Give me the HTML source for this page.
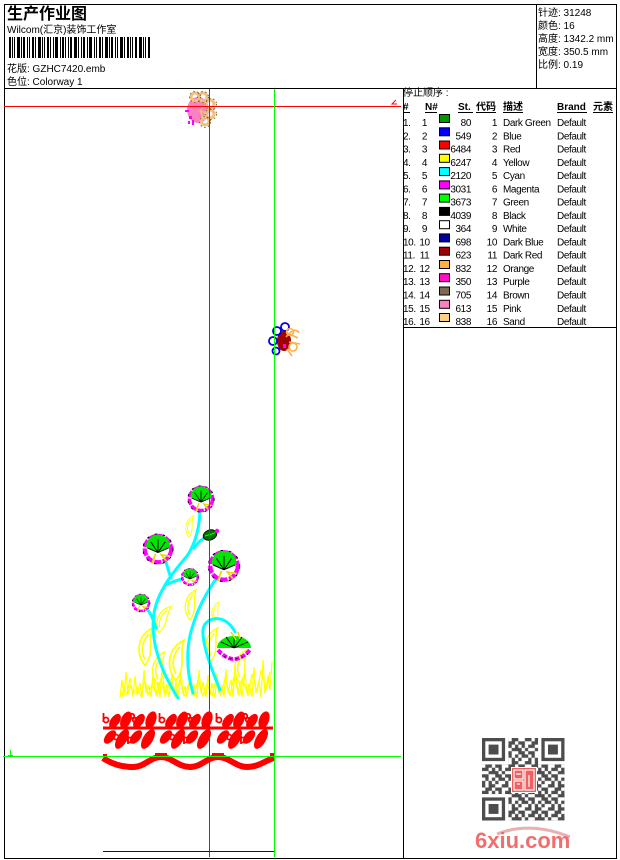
<!DOCTYPE html>
<html><head><meta charset="utf-8"><style>
html,body{margin:0;padding:0;background:#fff;}
svg{display:block;}
text{font-family:"Liberation Sans","Noto Sans CJK SC",sans-serif;font-size:10px;fill:#000;}
.b{font-weight:bold;}
.t{letter-spacing:-0.4px;}
</style></head><body>
<svg width="620" height="860" viewBox="0 0 620 860" xmlns="http://www.w3.org/2000/svg">
<defs>
<pattern id="qrp" width="23.1" height="23.1" patternUnits="userSpaceOnUse" x="482" y="738">
<path transform="scale(3.3)" fill="#4d4d4d" d="M0 0h1v1h-1z M2 0h2v1h-2z M6 0h1v1h-1z M1 1h2v1h-2z M4 1h2v1h-2z M0 2h2v1h-2z M3 2h1v1h-1z M5 2h1v1h-1z M2 3h3v1h-3z M6 3h1v1h-1z M0 4h2v1h-2z M4 4h2v1h-2z M1 5h1v1h-1z M3 5h1v1h-1z M5 5h2v1h-2z M0 6h1v1h-1z M2 6h1v1h-1z M4 6h1v1h-1z"/>
</pattern>
<g id="sp" fill="#ff0000">
<rect x="0" y="-1.5" width="57" height="3"/>
<ellipse cx="12" cy="-7" rx="4.5" ry="8" transform="rotate(35 12 -7)"/>
<ellipse cx="23" cy="-8" rx="5" ry="9" transform="rotate(25 23 -8)"/>
<ellipse cx="36" cy="-7" rx="4.5" ry="8" transform="rotate(35 36 -7)"/>
<ellipse cx="48" cy="-8" rx="5" ry="9" transform="rotate(20 48 -8)"/>
<ellipse cx="7" cy="9" rx="4.5" ry="8" transform="rotate(40 7 9)"/>
<ellipse cx="19" cy="11" rx="5" ry="11" transform="rotate(30 19 11)"/>
<ellipse cx="33" cy="9" rx="4.5" ry="8" transform="rotate(40 33 9)"/>
<ellipse cx="45" cy="11" rx="5" ry="11" transform="rotate(30 45 11)"/>
<g fill="none" stroke="#ff0000" stroke-width="1.8">
<circle cx="3" cy="-8" r="2.5"/><path d="M0.5,-15 v9"/>
<circle cx="29" cy="-12" r="2.2"/><circle cx="32" cy="-8" r="2.2"/>
<circle cx="13" cy="9" r="2.5"/><circle cx="27" cy="12" r="2.5"/><path d="M25,8 v8"/>
</g>
</g>
<g id="fl">
<circle r="11" fill="#fff" stroke="#ff00ff" stroke-width="3.4" stroke-dasharray="6 1.2"/>
<circle r="12.5" fill="none" stroke="#000" stroke-width="0.9" stroke-dasharray="2 5"/>
<path d="M0,3 L-10,-2 A10,10 0 0 1 10,-2 Z" fill="#00e600"/>
<path d="M0,3 L-6,-6 M0,3 L0,-8 M0,3 L6,-6 M0,3 L-9,-1 M0,3 L9,-1" stroke="#000" stroke-width="0.8"/>
<path d="M-2,4 L-5,12 M2,4 L7,10 M3,5 L10,6" stroke="#e8d800" stroke-width="1.4" fill="none"/>
</g>
<g id="fm" fill="none" stroke="#ffff00" stroke-width="1.3">
<path d="M0,30 C-8,20 -6,6 6,0 C2,10 8,20 0,30 Z"/>
<path d="M0,25 C-4,18 -2,10 3,5"/>
</g>
</defs>

<rect width="620" height="860" fill="#fff"/>

<!-- frame -->
<g stroke="#000" stroke-width="1" fill="none">
<rect x="4.5" y="4.5" width="612" height="854"/>
<line x1="4.5" y1="88.5" x2="616.5" y2="88.5"/>
<line x1="536.5" y1="4.5" x2="536.5" y2="88.5"/>
<line x1="403.5" y1="88.5" x2="403.5" y2="858.5"/>
<line x1="403.5" y1="327.5" x2="616.5" y2="327.5"/>
</g>

<!-- header left -->
<text x="7" y="19" class="b" style="font-size:16px;font-family:'Noto Sans CJK SC',sans-serif;font-weight:bold">生产作业图</text>
<text x="7" y="33">Wilcom(汇京)装饰工作室</text>
<g fill="#000">
<rect x="9" y="37" width="2" height="21"/><rect x="12" y="37" width="1" height="21"/><rect x="14" y="37" width="1" height="21"/><rect x="17" y="37" width="3" height="21"/><rect x="21" y="37" width="1" height="21"/><rect x="23" y="37" width="2" height="21"/><rect x="27" y="37" width="1" height="21"/><rect x="29" y="37" width="1" height="21"/><rect x="32" y="37" width="2" height="21"/><rect x="35" y="37" width="1" height="21"/><rect x="38" y="37" width="3" height="21"/><rect x="42" y="37" width="1" height="21"/><rect x="44" y="37" width="1" height="21"/><rect x="47" y="37" width="2" height="21"/><rect x="50" y="37" width="1" height="21"/><rect x="53" y="37" width="1" height="21"/><rect x="55" y="37" width="3" height="21"/><rect x="60" y="37" width="1" height="21"/><rect x="62" y="37" width="2" height="21"/><rect x="65" y="37" width="1" height="21"/><rect x="68" y="37" width="1" height="21"/><rect x="70" y="37" width="2" height="21"/><rect x="74" y="37" width="3" height="21"/><rect x="78" y="37" width="1" height="21"/><rect x="81" y="37" width="1" height="21"/><rect x="83" y="37" width="2" height="21"/><rect x="87" y="37" width="1" height="21"/><rect x="89" y="37" width="3" height="21"/><rect x="94" y="37" width="1" height="21"/><rect x="96" y="37" width="1" height="21"/><rect x="99" y="37" width="2" height="21"/><rect x="102" y="37" width="1" height="21"/><rect x="105" y="37" width="3" height="21"/><rect x="109" y="37" width="1" height="21"/><rect x="111" y="37" width="2" height="21"/><rect x="115" y="37" width="1" height="21"/><rect x="117" y="37" width="1" height="21"/><rect x="120" y="37" width="3" height="21"/><rect x="124" y="37" width="1" height="21"/><rect x="127" y="37" width="2" height="21"/><rect x="130" y="37" width="1" height="21"/><rect x="132" y="37" width="1" height="21"/><rect x="135" y="37" width="2" height="21"/><rect x="139" y="37" width="3" height="21"/><rect x="143" y="37" width="1" height="21"/><rect x="145" y="37" width="1" height="21"/><rect x="148" y="37" width="2" height="21"/>
</g>
<text x="7" y="72">花版: GZHC7420.emb</text>
<text x="7" y="85">色位: Colorway 1</text>

<!-- header right -->
<text x="538" y="16">针迹: 31248</text>
<text x="538" y="29">颜色: 16</text>
<text x="538" y="42">高度: 1342.2 mm</text>
<text x="538" y="55">宽度: 350.5 mm</text>
<text x="538" y="68">比例: 0.19</text>

<!-- table -->
<text x="403" y="96">停止顺序 :</text>
<text x="403" y="110" class="b">#</text>
<text x="425" y="110" class="b">N#</text>
<text x="458" y="110" class="b">St.</text>
<text x="476" y="110" class="b">代码</text>
<text x="503" y="110" class="b">描述</text>
<text x="557" y="110" class="b">Brand</text>
<text x="593" y="110" class="b">元素</text>
<g stroke="#000" stroke-width="1">
<line x1="403" y1="112.5" x2="410" y2="112.5"/>
<line x1="425" y1="112.5" x2="437" y2="112.5"/>
<line x1="458" y1="112.5" x2="473" y2="112.5"/>
<line x1="476" y1="112.5" x2="496" y2="112.5"/>
<line x1="503" y1="112.5" x2="523" y2="112.5"/>
<line x1="557" y1="112.5" x2="587" y2="112.5"/>
<line x1="593" y1="112.5" x2="613" y2="112.5"/>
</g>

<g class="t">
<text x="403" y="126">1.</text><text x="424.5" y="126" text-anchor="middle">1</text><rect x="439.5" y="114.5" width="10" height="8" fill="#009600" stroke="#000"/><text x="471" y="126" text-anchor="end">80</text><text x="497" y="126" text-anchor="end">1</text><text x="503" y="126">Dark Green</text><text x="557" y="126">Default</text>
<text x="403" y="139.3">2.</text><text x="424.5" y="139.3" text-anchor="middle">2</text><rect x="439.5" y="127.8" width="10" height="8" fill="#0000ff" stroke="#000"/><text x="471" y="139.3" text-anchor="end">549</text><text x="497" y="139.3" text-anchor="end">2</text><text x="503" y="139.3">Blue</text><text x="557" y="139.3">Default</text>
<text x="403" y="152.5">3.</text><text x="424.5" y="152.5" text-anchor="middle">3</text><rect x="439.5" y="141" width="10" height="8" fill="#ff0000" stroke="#000"/><text x="471" y="152.5" text-anchor="end">6484</text><text x="497" y="152.5" text-anchor="end">3</text><text x="503" y="152.5">Red</text><text x="557" y="152.5">Default</text>
<text x="403" y="165.8">4.</text><text x="424.5" y="165.8" text-anchor="middle">4</text><rect x="439.5" y="154.3" width="10" height="8" fill="#ffff00" stroke="#000"/><text x="471" y="165.8" text-anchor="end">6247</text><text x="497" y="165.8" text-anchor="end">4</text><text x="503" y="165.8">Yellow</text><text x="557" y="165.8">Default</text>
<text x="403" y="179.1">5.</text><text x="424.5" y="179.1" text-anchor="middle">5</text><rect x="439.5" y="167.6" width="10" height="8" fill="#00ffff" stroke="#000"/><text x="471" y="179.1" text-anchor="end">2120</text><text x="497" y="179.1" text-anchor="end">5</text><text x="503" y="179.1">Cyan</text><text x="557" y="179.1">Default</text>
<text x="403" y="192.4">6.</text><text x="424.5" y="192.4" text-anchor="middle">6</text><rect x="439.5" y="180.9" width="10" height="8" fill="#ff00ff" stroke="#000"/><text x="471" y="192.4" text-anchor="end">3031</text><text x="497" y="192.4" text-anchor="end">6</text><text x="503" y="192.4">Magenta</text><text x="557" y="192.4">Default</text>
<text x="403" y="205.6">7.</text><text x="424.5" y="205.6" text-anchor="middle">7</text><rect x="439.5" y="194.1" width="10" height="8" fill="#00ff00" stroke="#000"/><text x="471" y="205.6" text-anchor="end">3673</text><text x="497" y="205.6" text-anchor="end">7</text><text x="503" y="205.6">Green</text><text x="557" y="205.6">Default</text>
<text x="403" y="218.9">8.</text><text x="424.5" y="218.9" text-anchor="middle">8</text><rect x="439.5" y="207.4" width="10" height="8" fill="#000000" stroke="#000"/><text x="471" y="218.9" text-anchor="end">4039</text><text x="497" y="218.9" text-anchor="end">8</text><text x="503" y="218.9">Black</text><text x="557" y="218.9">Default</text>
<text x="403" y="232.2">9.</text><text x="424.5" y="232.2" text-anchor="middle">9</text><rect x="439.5" y="220.7" width="10" height="8" fill="#ffffff" stroke="#000"/><text x="471" y="232.2" text-anchor="end">364</text><text x="497" y="232.2" text-anchor="end">9</text><text x="503" y="232.2">White</text><text x="557" y="232.2">Default</text>
<text x="403" y="245.4">10.</text><text x="424.5" y="245.4" text-anchor="middle">10</text><rect x="439.5" y="233.9" width="10" height="8" fill="#0000a0" stroke="#000"/><text x="471" y="245.4" text-anchor="end">698</text><text x="497" y="245.4" text-anchor="end">10</text><text x="503" y="245.4">Dark Blue</text><text x="557" y="245.4">Default</text>
<text x="403" y="258.7">11.</text><text x="424.5" y="258.7" text-anchor="middle">11</text><rect x="439.5" y="247.2" width="10" height="8" fill="#a00000" stroke="#000"/><text x="471" y="258.7" text-anchor="end">623</text><text x="497" y="258.7" text-anchor="end">11</text><text x="503" y="258.7">Dark Red</text><text x="557" y="258.7">Default</text>
<text x="403" y="272">12.</text><text x="424.5" y="272" text-anchor="middle">12</text><rect x="439.5" y="260.5" width="10" height="8" fill="#ffb040" stroke="#000"/><text x="471" y="272" text-anchor="end">832</text><text x="497" y="272" text-anchor="end">12</text><text x="503" y="272">Orange</text><text x="557" y="272">Default</text>
<text x="403" y="285.2">13.</text><text x="424.5" y="285.2" text-anchor="middle">13</text><rect x="439.5" y="273.7" width="10" height="8" fill="#ff10c8" stroke="#000"/><text x="471" y="285.2" text-anchor="end">350</text><text x="497" y="285.2" text-anchor="end">13</text><text x="503" y="285.2">Purple</text><text x="557" y="285.2">Default</text>
<text x="403" y="298.5">14.</text><text x="424.5" y="298.5" text-anchor="middle">14</text><rect x="439.5" y="287" width="10" height="8" fill="#806850" stroke="#000"/><text x="471" y="298.5" text-anchor="end">705</text><text x="497" y="298.5" text-anchor="end">14</text><text x="503" y="298.5">Brown</text><text x="557" y="298.5">Default</text>
<text x="403" y="311.8">15.</text><text x="424.5" y="311.8" text-anchor="middle">15</text><rect x="439.5" y="300.3" width="10" height="8" fill="#ff80c0" stroke="#000"/><text x="471" y="311.8" text-anchor="end">613</text><text x="497" y="311.8" text-anchor="end">15</text><text x="503" y="311.8">Pink</text><text x="557" y="311.8">Default</text>
<text x="403" y="325">16.</text><text x="424.5" y="325" text-anchor="middle">16</text><rect x="439.5" y="313.5" width="10" height="8" fill="#ffd088" stroke="#000"/><text x="471" y="325" text-anchor="end">838</text><text x="497" y="325" text-anchor="end">16</text><text x="503" y="325">Sand</text><text x="557" y="325">Default</text>
</g>

<!-- top pink flower -->
<g>
<ellipse cx="198" cy="110" rx="11" ry="13" fill="#ff80c0"/>
<g fill="none" stroke="#f0c080" stroke-width="3">
<circle cx="195" cy="97" r="4"/><circle cx="203" cy="97" r="4"/><circle cx="210" cy="104" r="4"/><circle cx="210" cy="114" r="4"/><circle cx="205" cy="121" r="4"/>
</g>
<g fill="none" stroke="#806040" stroke-width="1" stroke-dasharray="1.5 2.5">
<circle cx="195" cy="97" r="5.5"/><circle cx="203" cy="97" r="5.5"/><circle cx="211" cy="104" r="5.5"/><circle cx="211" cy="114" r="5.5"/><circle cx="205" cy="122" r="5.5"/>
</g>
<path d="M200,110 L207,104 M200,110 L208,115 M200,110 L204,120" stroke="#f0c080" stroke-width="1.4"/>
<g fill="#ff00ff"><rect x="185" y="110" width="4" height="2"/><rect x="189" y="116" width="3" height="3"/><rect x="188" y="121" width="2" height="3"/><rect x="192" y="120" width="2" height="5"/></g>
</g>

<!-- second flower -->
<g>
<ellipse cx="284" cy="341" rx="7" ry="10" fill="#a00000"/>
<g fill="none" stroke="#0000e0" stroke-width="1.8">
<circle cx="277" cy="331" r="4"/><circle cx="285" cy="327" r="4"/><circle cx="273" cy="341" r="4"/><circle cx="276" cy="351" r="3.5"/>
</g>
<g fill="none" stroke="#ffb040" stroke-width="1.6">
<path d="M287,333 L298,338 M289,342 L300,344 M287,349 L292,356 M286,337 C292,330 296,328 299,333"/>
<circle cx="293" cy="347" r="4"/><circle cx="290" cy="332" r="3.5"/>
</g>
<rect x="283" y="344" width="3" height="4" fill="#ff00ff"/>
</g>

<!-- yellow flames -->
<use href="#fm" transform="translate(189,516) scale(0.7)"/>
<use href="#fm" transform="translate(190,590) scale(1)"/>
<use href="#fm" transform="translate(215,602) scale(0.65)"/>
<use href="#fm" transform="translate(166,605) scale(0.95) rotate(15)"/>
<use href="#fm" transform="translate(145,628) scale(1.25)"/>
<use href="#fm" transform="translate(176,640) scale(1.35)"/>
<use href="#fm" transform="translate(211,628) scale(1.1)"/>
<use href="#fm" transform="translate(158,652) scale(1.1)"/>
<use href="#fm" transform="translate(240,650) scale(1.1)"/>

<!-- grass -->
<g fill="none" stroke="#ffff00" stroke-width="1.2">
<path d="M120,698 L122,680 L124,696 L126,672 L128,694 L131,685 L133,697 L135,676 L137,695 L140,683 L142,698 L144,670 L146,693 L149,686 L151,697 L153,675 L156,695 L158,682 L160,698 L162,668 L165,694 L167,684 L169,697 L172,674 L174,695 L176,681 L178,698 L181,672 L183,694 L185,686 L187,697 L190,676 L192,695 L194,684 L197,698 L199,670 L201,693 L203,682 L206,697 L208,675 L210,695 L212,683 L215,698 L217,673 L219,694 L222,685 L224,697 L226,669 L228,693 L231,680 L233,697 L235,666 L238,694 L240,682 L242,697 L245,672 L247,694 L249,684 L252,697 L254,667 L256,693 L259,681 L261,697 L263,660 L265,694 L268,676 L270,690 L272,662"/>
<path d="M122,697 L124,686 L127,695 L130,678 L133,694 L137,688 L141,696 L145,680 L148,695 L152,684 L157,696 L161,678 L165,696 L170,682 L175,696 L180,679 L184,696 L189,683 L194,696 L198,680 L203,696 L207,684 L212,696 L216,680 L221,696 L225,678 L230,696 L234,676 L239,696 L243,680 L248,696 L252,674 L257,692 L261,670 L266,690 L270,672"/>
</g>

<!-- cyan stems -->
<g fill="none" stroke="#00ffff" stroke-width="3" stroke-linecap="round">
<path d="M178,698 C160,670 150,640 154,613 C158,590 175,570 187,556 C196,543 200,525 200,508"/>
<path d="M194,548 C198,542 203,538 208,536"/>
<path d="M171,578 C168,570 166,562 164,555"/>
<path d="M166,585 C175,580 182,579 188,578"/>
<path d="M156,628 C153,617 149,611 145,606"/>
<path d="M193,693 C186,670 186,645 193,625 C198,608 208,590 218,576"/>
<path d="M220,690 C212,670 202,645 203,630 C204,617 225,612 235,632"/>
</g>

<!-- flowers -->
<use href="#fl" transform="translate(201,499) scale(1.05)"/>
<use href="#fl" transform="translate(158,549) scale(1.2)"/>
<use href="#fl" transform="translate(224,566) scale(1.25)"/>
<use href="#fl" transform="translate(190,577) scale(0.7)"/>
<use href="#fl" transform="translate(141,603) scale(0.72)"/>
<!-- bud -->
<ellipse cx="210" cy="535" rx="7" ry="5" fill="#007000" stroke="#000" stroke-width="0.8" transform="rotate(-20 210 535)"/>
<path d="M205,536 L215,533" stroke="#00ff00" stroke-width="1"/>
<circle cx="217" cy="531" r="2.2" fill="#ff00ff"/>
<!-- lotus -->
<path d="M217,648 A17,12 0 0 1 251,648 Z" fill="#00e600"/>
<path d="M234,648 L221,642 M234,648 L226,637 M234,648 L234,636 M234,648 L242,637 M234,648 L248,642" stroke="#000" stroke-width="0.9"/>
<path d="M218,650 Q234,668 250,650" fill="none" stroke="#ff00ff" stroke-width="4" stroke-dasharray="5 1.5"/>
<path d="M219,653 Q234,665 249,653" fill="none" stroke="#000" stroke-width="0.8" stroke-dasharray="2 4"/>
<path d="M231,632 L236,640 M238,632 L240,639" stroke="#e8d800" stroke-width="1.5"/>

<!-- red leaf border -->
<use href="#sp" transform="translate(103,728)"/>
<use href="#sp" transform="translate(159,728)"/>
<use href="#sp" transform="translate(216,728)"/>
<path d="M103,758 C113,765 123,767 133,767 C145,767 150,757 161,757 C172,757 178,767 190,767 C202,767 207,757 218,757 C229,757 236,767 247,767 C259,767 266,760 274,758" fill="none" stroke="#ff0000" stroke-width="6"/>
<g fill="#ff0000"><rect x="103" y="754" width="4" height="3"/><rect x="155" y="753" width="12" height="2"/><rect x="212" y="753" width="12" height="2"/><rect x="270" y="753" width="4" height="4"/></g>

<!-- guide lines -->
<g stroke-width="1" fill="none">
<line x1="4" y1="106.5" x2="401" y2="106.5" stroke="#ff0000"/>
<line x1="209.5" y1="89" x2="209.5" y2="857" stroke="#ff0000"/>
<path d="M396,100 L392,104 L397,104" stroke="#ff0000"/>
<line x1="274.5" y1="89" x2="274.5" y2="857" stroke="#00ff00"/>
<line x1="3" y1="756.5" x2="401" y2="756.5" stroke="#00ff00"/>
<path d="M10.5,750 v5 M8,755.5 h5" stroke="#00ff00"/>
<line x1="103" y1="851.5" x2="274" y2="851.5" stroke="#0000c8"/>
</g>

<!-- QR -->
<rect x="482" y="738" width="82.5" height="82.5" fill="url(#qrp)"/>
<g>
<rect x="482" y="738" width="26.4" height="26.4" fill="#fff"/>
<rect x="538.1" y="738" width="26.4" height="26.4" fill="#fff"/>
<rect x="482" y="794.1" width="26.4" height="26.4" fill="#fff"/>
<g fill="#4d4d4d">
<rect x="482" y="738" width="23.1" height="23.1"/><rect x="541.4" y="738" width="23.1" height="23.1"/><rect x="482" y="797.4" width="23.1" height="23.1"/>
</g>
<g fill="#fff">
<rect x="485.3" y="741.3" width="16.5" height="16.5"/><rect x="544.7" y="741.3" width="16.5" height="16.5"/><rect x="485.3" y="800.7" width="16.5" height="16.5"/>
</g>
<g fill="#4d4d4d">
<rect x="488.6" y="744.6" width="9.9" height="9.9"/><rect x="548" y="744.6" width="9.9" height="9.9"/><rect x="488.6" y="804" width="9.9" height="9.9"/>
</g>
<rect x="511" y="767" width="26" height="26" fill="#fff"/>
<rect x="512" y="768" width="24" height="24" fill="#f06060"/>
<g stroke="#fff" stroke-width="1.2" fill="none">
<rect x="514" y="770" width="9" height="9"/><rect x="525" y="770" width="9" height="20"/><rect x="514" y="781" width="9" height="9"/>
<path d="M516,774 h5 M529,775 v12 M517,784 h3"/>
</g>
</g>
<path d="M497,834 Q530,821 570,837" fill="none" stroke="#e8b0b0" stroke-width="3"/>
<text x="475" y="848" style="font-size:22px;font-weight:bold;fill:#ef6f6f">6xiu.com</text>
</svg>
</body></html>
